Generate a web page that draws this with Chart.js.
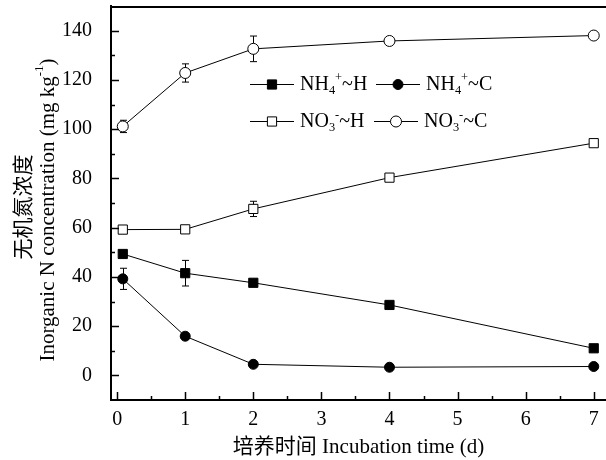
<!DOCTYPE html>
<html>
<head>
<meta charset="utf-8">
<script src="https://cdn.jsdelivr.net/npm/chart.js"></script>
<style>
  html, body { margin: 0; padding: 0; background: #fff; }
  canvas { display: block; }
</style>
</head>
<body>
<canvas id="myChart" width="606" height="460"></canvas>
<script>
// incubation days (first sampling ~2 h)
const days = [0.083, 1, 2, 4, 7];

const nh4H = [49.3, 41.5, 37.6, 28.6, 11.0];
const nh4HErr = [1.2, 5.2, 1.0, 1.0, 1.0];
const nh4C = [39.2, 15.9, 4.5, 3.3, 3.6];
const nh4CErr = [4.3, 1.0, 0.6, 0.5, 0.5];
const no3H = [59.2, 59.3, 67.6, 80.3, 94.3];
const no3HErr = [1.5, 1.0, 3.1, 1.3, 1.0];
const no3C = [101.1, 122.8, 132.6, 135.8, 138.0];
const no3CErr = [2.5, 3.7, 5.2, 1.0, 1.0];

const xTicks = [0, 1, 2, 3, 4, 5, 6, 7];
const yTicks = [0, 20, 40, 60, 80, 100, 120, 140];

const errs = [nh4HErr, nh4CErr, no3HErr, no3CErr];

Chart.defaults.font.family = "'Liberation Serif', 'Times New Roman', 'Noto Sans CJK SC', serif";
Chart.defaults.font.size = 20;
Chart.defaults.color = '#000';

function series(label, vals, style, radius, fill) {
  return {
    label: label,
    data: vals.map((v, i) => ({x: days[i], y: v})),
    borderColor: '#000',
    borderWidth: 1,
    pointStyle: style,
    pointRadius: radius,
    pointBackgroundColor: fill,
    pointBorderColor: '#000',
    pointBorderWidth: 1,
    tension: 0,
    clip: 10
  };
}

const datasets = [
  series('NH4+~H', nh4H, 'rect', 6.5, '#000'),
  series('NH4+~C', nh4C, 'circle', 5, '#000'),
  series('NO3-~H', no3H, 'rect', 6.5, '#fff'),
  series('NO3-~C', no3C, 'circle', 5.5, '#fff')
];

// error bars under the markers
const errorBars = {
  id: 'errorBars',
  beforeDatasetsDraw(chart) {
    const {ctx, scales: {x, y}} = chart;
    ctx.save();
    ctx.strokeStyle = '#000';
    ctx.lineWidth = 1;
    chart.data.datasets.forEach((ds, i) => {
      ds.data.forEach((p, j) => {
        const e = errs[i][j];
        const px = Math.round(x.getPixelForValue(p.x)) + 0.5;
        const t = y.getPixelForValue(p.y + e);
        const b = y.getPixelForValue(p.y - e);
        ctx.beginPath();
        ctx.moveTo(px, t); ctx.lineTo(px, b);
        ctx.moveTo(px - 3.5, t); ctx.lineTo(px + 3.5, t);
        ctx.moveTo(px - 3.5, b); ctx.lineTo(px + 3.5, b);
        ctx.stroke();
      });
    });
    ctx.restore();
  }
};

// text with sub/superscripts: parts = [[text, 'sub'|'sup'|'']]
function richText(ctx, parts, x, y, size) {
  let cx = x;
  parts.forEach(([t, k]) => {
    let s = size, dy = 0;
    if (k === 'sub') { s = size * 0.62; dy = size * 0.28; }
    if (k === 'sup') { s = size * 0.62; dy = -size * 0.38; }
    ctx.font = s + "px 'Liberation Serif', serif";
    ctx.fillText(t, cx, y + dy);
    cx += ctx.measureText(t).width;
  });
  return cx - x;
}

const legendItems = [
  {x: 250, y: 84, ds: 0, parts: [['NH', ''], ['4', 'sub'], ['+', 'sup'], ['~H', '']]},
  {x: 376, y: 84, ds: 1, parts: [['NH', ''], ['4', 'sub'], ['+', 'sup'], ['~C', '']]},
  {x: 250, y: 121, ds: 2, parts: [['NO', ''], ['3', 'sub'], ['-', 'sup'], ['~H', '']]},
  {x: 374, y: 121, ds: 3, parts: [['NO', ''], ['3', 'sub'], ['-', 'sup'], ['~C', '']]}
];

const decorations = {
  id: 'decorations',
  afterDraw(chart) {
    const {ctx, chartArea: a, scales: {x, y}} = chart;
    ctx.save();
    ctx.strokeStyle = '#000';

    // top frame line
    ctx.lineWidth = 2;
    ctx.beginPath();
    ctx.moveTo(a.left, a.top + 1); ctx.lineTo(a.right, a.top + 1);
    ctx.stroke();

    // inward ticks
    ctx.lineWidth = 1.5;
    ctx.beginPath();
    for (let v = 0; v <= 7; v += 0.5) {
      const px = Math.round(x.getPixelForValue(v)) + 0.5;
      const len = Number.isInteger(v) ? 8 : 4;
      ctx.moveTo(px, a.bottom); ctx.lineTo(px, a.bottom - len);
    }
    for (let v = 0; v <= 140; v += 10) {
      const py = Math.round(y.getPixelForValue(v)) + 0.5;
      const len = v % 20 === 0 ? 8 : 4;
      ctx.moveTo(a.left, py); ctx.lineTo(a.left + len, py);
    }
    ctx.stroke();

    // y-axis title (two lines)
    ctx.fillStyle = '#000';
    ctx.save();
    ctx.translate(22, 207);
    ctx.rotate(-Math.PI / 2);
    ctx.textAlign = 'center';
    ctx.textBaseline = 'middle';
    ctx.font = "21px 'Noto Sans CJK SC', serif";
    ctx.fillText('无机氮浓度', 0, 0);
    ctx.restore();

    ctx.save();
    ctx.translate(48, 210);
    ctx.rotate(-Math.PI / 2);
    ctx.textBaseline = 'middle';
    const yParts = [['Inorganic N concentration (mg kg', ''], ['-1', 'sup'], [')', '']];
    let w = 0;
    yParts.forEach(([t, k]) => {
      ctx.font = (k ? 21 * 0.62 : 21) + "px 'Liberation Serif', serif";
      w += ctx.measureText(t).width;
    });
    ctx.textAlign = 'left';
    richText(ctx, yParts, -w / 2, 0, 21);
    ctx.restore();

    // legend
    ctx.textBaseline = 'middle';
    ctx.textAlign = 'left';
    legendItems.forEach(it => {
      const ds = chart.data.datasets[it.ds];
      ctx.strokeStyle = '#000';
      ctx.lineWidth = 1;
      ctx.beginPath();
      ctx.moveTo(it.x, it.y + 0.5); ctx.lineTo(it.x + 44, it.y + 0.5);
      ctx.stroke();
      ctx.fillStyle = ds.pointBackgroundColor;
      Chart.helpers.drawPoint(ctx, {pointStyle: ds.pointStyle, radius: ds.pointRadius, borderWidth: 1, rotation: 0}, it.x + 22, it.y + 0.5);
      ctx.fillStyle = '#000';
      richText(ctx, it.parts, it.x + 50, it.y + 1, 20);
    });

    ctx.restore();
  }
};

new Chart(document.getElementById('myChart'), {
  type: 'line',
  data: {datasets: datasets},
  options: {
    responsive: false,
    animation: false,
    layout: {autoPadding: false, padding: {top: 6, right: 0, left: 0, bottom: 0}},
    plugins: {legend: {display: false}, tooltip: {enabled: false}},
    scales: {
      x: {
        type: 'linear',
        min: -0.09,
        max: 7.18,
        grid: {display: false},
        border: {display: true, color: '#000', width: 2},
        afterBuildTicks: s => { s.ticks = xTicks.map(v => ({value: v})); },
        afterFit: s => { s.height = 60; s.paddingLeft = 0; s.paddingRight = 0; },
        ticks: {padding: 0, maxRotation: 0, font: {size: 20}},
        title: {
          display: true,
          text: '培养时间 Incubation time (d)',
          font: {size: 21},
          padding: {top: 0, bottom: 0}
        }
      },
      y: {
        min: -10,
        max: 150,
        grid: {display: false},
        border: {display: true, color: '#000', width: 2},
        afterBuildTicks: s => { s.ticks = yTicks.map(v => ({value: v})); },
        afterFit: s => { s.width = 111; s.paddingTop = 0; s.paddingBottom = 0; },
        ticks: {padding: 11, font: {size: 20}}
      }
    }
  },
  plugins: [errorBars, decorations]
});
</script>
</body>
</html>
